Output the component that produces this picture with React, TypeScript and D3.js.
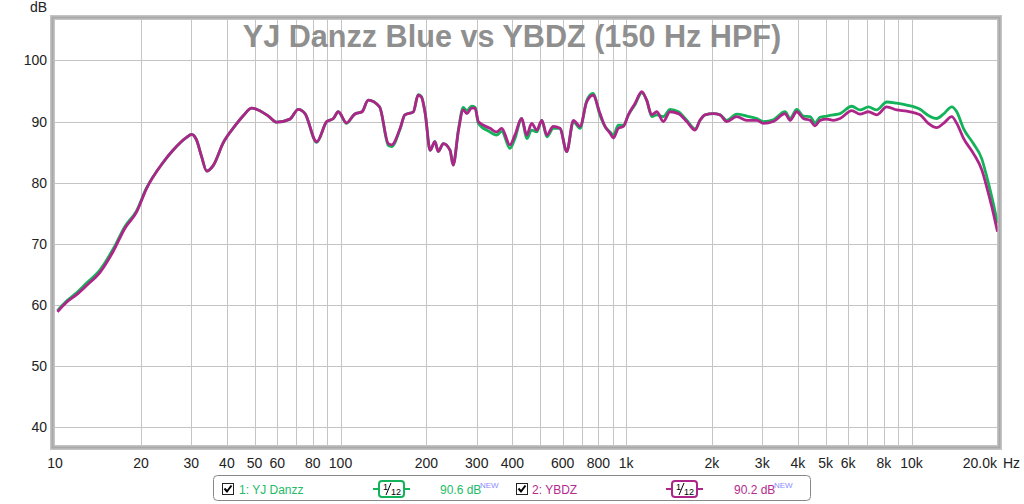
import React from "react";
import * as d3 from "d3";

const FREQ = [
  10.2, 11.0, 11.9, 12.9, 14.4, 16.0, 17.6, 19.3, 20.9, 23.9,
  25.9, 28.9, 30.1, 31.3, 32.6, 34.0, 35.8, 38.9, 42.7, 45.7,
  48.9, 51.5, 55.9, 59.8, 66.5, 71.1, 75.1, 82.5, 89.5, 94.4,
  98.2, 105, 112, 119, 125, 137, 147, 151, 162, 168,
  180, 187, 192, 198, 206, 214, 220, 229, 242, 248,
  259, 269, 277, 288, 296, 304, 334, 352, 367, 392,
  408, 431, 449, 467, 487, 507, 528, 556, 587, 620,
  654, 690, 728, 766, 811, 844, 879, 903, 940, 979,
  1019, 1076, 1135, 1181, 1230, 1281, 1351, 1426, 1525, 1632,
  1745, 1816, 1891, 2022, 2134, 2252, 2442, 2647, 2870, 3027,
  3281, 3606, 3753, 3962, 4180, 4412, 4592, 4781, 5047, 5322,
  5618, 6174, 6600, 7060, 7551, 8188, 8875, 9621, 10710, 11450,
  12250, 12930, 13830, 14400, 15190, 16460, 17620, 18340, 19100, 20000,
];

const DB_YBDZ = [
  58.9, 60.5, 61.7, 63.2, 65.4, 68.8, 72.6, 75.2, 79.0, 83.3,
  85.3, 87.4, 87.9, 87.0, 84.3, 81.9, 82.8, 86.6, 89.3, 91.0,
  92.2, 91.9, 90.9, 89.9, 90.4, 92.0, 91.3, 86.7, 90.0, 90.5,
  91.6, 89.8, 91.2, 91.6, 93.5, 92.4, 86.4, 86.2, 89.0, 91.1,
  91.6, 94.3, 94.0, 91.3, 85.3, 86.7, 85.1, 86.4, 85.3, 82.9,
  88.6, 91.9, 91.3, 92.2, 92.2, 90.0, 88.9, 88.3, 88.9, 86.2,
  87.8, 90.5, 87.8, 89.7, 88.6, 90.2, 87.8, 89.2, 88.9, 85.1,
  90.2, 89.2, 93.2, 94.3, 91.3, 89.2, 88.1, 87.3, 88.9, 89.2,
  91.1, 93.0, 94.9, 93.5, 91.1, 91.6, 90.0, 91.6, 91.3, 90.0,
  88.6, 90.2, 91.1, 91.3, 91.1, 90.0, 90.8, 90.2, 90.2, 89.7,
  90.0, 91.3, 90.2, 91.6, 90.5, 90.2, 89.3, 90.2, 90.4, 90.2,
  90.5, 91.8, 91.2, 91.6, 91.1, 92.4, 91.9, 91.7, 91.1, 89.7,
  89.0, 89.7, 90.8, 89.7, 87.3, 84.8, 82.1, 79.3, 76.1, 72.0,
];

const DB_DANZZ = [
  59.1, 60.7, 62.0, 63.6, 65.8, 69.2, 72.9, 75.4, 79.1, 83.3,
  85.3, 87.4, 87.9, 87.0, 84.3, 81.9, 82.8, 86.6, 89.3, 91.0,
  92.2, 91.9, 90.9, 89.9, 90.4, 92.0, 91.3, 86.6, 90.0, 90.5,
  91.6, 89.7, 91.2, 91.6, 93.5, 92.4, 86.1, 85.9, 88.9, 91.1,
  91.6, 94.4, 94.1, 91.3, 85.3, 86.7, 85.1, 86.4, 85.3, 82.9,
  88.8, 92.3, 91.8, 92.5, 92.3, 89.7, 88.3, 87.8, 88.4, 85.6,
  87.2, 90.5, 87.2, 88.6, 88.3, 90.2, 87.5, 88.9, 88.9, 85.1,
  90.0, 88.9, 93.4, 94.6, 91.0, 89.2, 88.3, 87.8, 89.4, 89.4,
  91.1, 92.8, 94.7, 93.5, 90.8, 91.1, 90.8, 92.0, 91.6, 90.2,
  88.8, 90.2, 91.1, 91.3, 91.1, 90.2, 91.2, 90.9, 90.5, 90.0,
  90.3, 91.6, 90.5, 92.0, 90.9, 90.8, 89.8, 90.7, 90.9, 91.1,
  91.3, 92.5, 91.9, 92.4, 91.9, 93.2, 93.0, 92.7, 92.0, 91.0,
  90.5, 91.2, 92.4, 91.6, 88.9, 86.4, 83.9, 81.0, 77.7, 73.4,
];

const Y_TICKS = [40, 50, 60, 70, 80, 90, 100];
const X_GRID = [
  20, 30, 40, 50, 60, 70, 80, 90, 100,
  200, 300, 400, 500, 600, 700, 800, 900, 1000,
  2000, 3000, 4000, 5000, 6000, 7000, 8000, 9000, 10000,
];
const X_LABELS: [number, string][] = [
  [10, "10"], [20, "20"], [30, "30"], [40, "40"], [50, "50"], [60, "60"], [80, "80"],
  [100, "100"], [200, "200"], [300, "300"], [400, "400"], [600, "600"], [800, "800"],
  [1000, "1k"], [2000, "2k"], [3000, "3k"], [4000, "4k"], [5000, "5k"], [6000, "6k"],
  [8000, "8k"], [10000, "10k"],
];

const TITLE = "YJ Danzz Blue vs YBDZ (150 Hz HPF)";
const GREEN = "#14b35a";
const MAGENTA = "#ad2589";
const GREEN_TXT = "#22bb66";
const MAGENTA_TXT = "#b52a8e";

const FONT = "'Liberation Sans', Arial, sans-serif";

function Smoothing({ x, color }: { x: number; color: string }) {
  return (
    <g>
      <line x1={x} x2={x + 37} y1={489} y2={489} stroke={color} strokeWidth={2} />
      <rect x={x + 6} y={481} width={25} height={16} rx={3} fill="#fff" stroke={color} strokeWidth={2} />
      <text x={x + 10} y={490} fontSize={9} fontFamily={FONT} fill="#000">1</text>
      <line x1={x + 13} y1={495} x2={x + 18} y2={483} stroke="#000" strokeWidth={1} />
      <text x={x + 18} y={495} fontSize={9} fontFamily={FONT} fill="#000">12</text>
    </g>
  );
}

function Checkbox({ x }: { x: number }) {
  return (
    <g>
      <rect x={x + 0.5} y={483.5} width={11} height={11} fill="#fff" stroke="#222" strokeWidth={1} />
      <path d={`M${x + 2.5},${488.5} L${x + 5},${491.5} L${x + 9.5},${485.5}`} fill="none" stroke="#000" strokeWidth={2} />
    </g>
  );
}

export default function App() {
  const x0 = 55, x1 = 997.5, yTop = 20, yBot = 445;
  const x = d3.scaleLog().domain([10, 20000]).range([x0, x1]);
  const y = d3.scaleLinear().domain([37.13, 106.6]).range([yBot, yTop]);

  const line = d3
    .line<number>()
    .x((_, i) => x(FREQ[i]))
    .y((d) => y(d))
    .curve(d3.curveMonotoneX);

  return (
    <svg
      width={1024}
      height={504}
      style={{ position: "absolute", left: 0, top: 0, background: "#fff" }}
      fontFamily={FONT}
    >
      <rect x={0} y={0} width={1024} height={504} fill="#fff" />
      <defs>
        <clipPath id="plot">
          <rect x={x0} y={yTop} width={x1 - x0} height={yBot - yTop} />
        </clipPath>
      </defs>
      {X_GRID.map((f) => (
        <line key={"vx" + f} x1={Math.round(x(f)) + 0.5} x2={Math.round(x(f)) + 0.5} y1={yTop} y2={yBot} stroke="#c4c4c4" strokeWidth={1} />
      ))}
      {Y_TICKS.map((v) => (
        <line key={"hy" + v} x1={x0} x2={x1} y1={Math.round(y(v)) + 0.5} y2={Math.round(y(v)) + 0.5} stroke="#c4c4c4" strokeWidth={1} />
      ))}
      <rect x={52.5} y={17.5} width={947} height={430} fill="none" stroke="#c4c4c4" strokeWidth={5} />
      <rect x={52.5} y={17.5} width={947} height={430} fill="none" stroke="#a8a8a8" strokeWidth={2} />
      <text x={512} y={47} textAnchor="middle" fontSize={30.6} fontWeight="bold" fill="#8f8f8f">{TITLE}</text>
      <g clipPath="url(#plot)">
        <path d={line(DB_DANZZ) || ""} fill="none" stroke={GREEN} strokeWidth={2.8} strokeLinejoin="round" />
        <path d={line(DB_YBDZ) || ""} fill="none" stroke={MAGENTA} strokeWidth={2.8} strokeLinejoin="round" />
      </g>
      <text x={47} y={12} textAnchor="end" fontSize={14} fill="#222">dB</text>
      {Y_TICKS.map((v) => (
        <text key={"yl" + v} x={47} y={y(v) + 5} textAnchor="end" fontSize={14} fill="#222">{v}</text>
      ))}
      {X_LABELS.map(([f, s]) => (
        <text key={"xl" + f} x={x(f)} y={468} textAnchor="middle" fontSize={14} fill="#222">{s}</text>
      ))}
      <text x={997} y={468} textAnchor="end" fontSize={14} fill="#222">20.0k</text>
      <text x={1003} y={468} fontSize={14} fill="#222">Hz</text>
      <rect x={213.5} y={475.5} width={597} height={25} rx={4} fill="#fff" stroke="#888" strokeWidth={1} />
      <Checkbox x={222} />
      <text x={239} y={494} fontSize={12} fill={GREEN_TXT}>1: YJ Danzz</text>
      <Smoothing x={373} color={GREEN} />
      <text x={440} y={494} fontSize={12} fill={GREEN_TXT}>90.6 dB</text>
      <text x={480} y={488} fontSize={8} fill="#8a8aff">NEW</text>
      <Checkbox x={516} />
      <text x={532} y={494} fontSize={12} fill={MAGENTA_TXT}>2: YBDZ</text>
      <Smoothing x={666} color={MAGENTA} />
      <text x={734} y={494} fontSize={12} fill={MAGENTA_TXT}>90.2 dB</text>
      <text x={774} y={488} fontSize={8} fill="#8a8aff">NEW</text>
    </svg>
  );
}
